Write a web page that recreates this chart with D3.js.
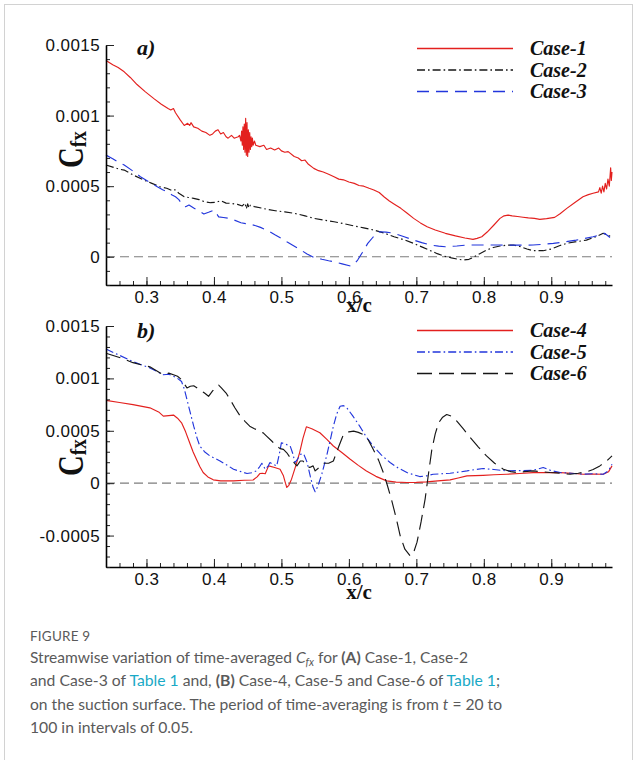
<!DOCTYPE html>
<html>
<head>
<meta charset="utf-8">
<script src="https://cdn.jsdelivr.net/npm/d3@7"></script>
<style>
  html, body { margin: 0; padding: 0; background: #fff; }
  svg { display: block; }
</style>
</head>
<body>
<svg id="fig" width="639" height="760"></svg>
<script>
// ---- Data: [x/c, Cfx] ----
const case1 = [
  [0.240,13.9e-4],[0.250,13.6e-4],[0.258,13.4e-4],[0.267,13.1e-4],[0.276,12.7e-4],[0.286,12.2e-4],
  [0.298,11.7e-4],[0.311,11.2e-4],[0.322,10.8e-4],[0.332,10.5e-4],[0.336,10.4e-4],[0.340,10.5e-4],
  [0.343,10.2e-4],[0.350,9.7e-4],[0.356,9.3e-4],[0.361,9.45e-4],[0.364,9.3e-4],[0.366,9.5e-4],
  [0.370,9.2e-4],[0.376,9.1e-4],[0.382,8.9e-4],[0.388,8.8e-4],[0.394,8.6e-4],[0.398,8.7e-4],
  [0.402,8.9e-4],[0.406,9.0e-4],[0.410,8.7e-4],[0.414,8.8e-4],[0.418,8.5e-4],[0.421,8.4e-4],
  [0.426,8.6e-4],[0.430,8.4e-4],[0.436,8.5e-4],[0.438,8.6e-4],[0.440,8.2e-4],[0.441,8.9e-4],
  [0.442,7.9e-4],[0.443,9.2e-4],[0.444,7.6e-4],[0.445,9.4e-4],[0.446,7.4e-4],[0.447,9.8e-4],
  [0.448,7.2e-4],[0.449,9.5e-4],[0.450,7.1e-4],[0.451,9.0e-4],[0.452,7.4e-4],[0.453,8.8e-4],
  [0.454,7.6e-4],[0.455,8.5e-4],[0.456,7.8e-4],[0.457,8.4e-4],[0.458,7.9e-4],[0.460,8.2e-4],
  [0.462,7.9e-4],[0.468,7.8e-4],[0.474,7.9e-4],[0.478,7.6e-4],[0.484,7.7e-4],[0.490,7.56e-4],
  [0.496,7.7e-4],[0.500,7.5e-4],[0.505,7.4e-4],[0.510,7.45e-4],[0.519,7.1e-4],[0.525,7.0e-4],
  [0.530,6.8e-4],[0.535,6.85e-4],[0.540,6.55e-4],[0.548,6.26e-4],[0.555,6.1e-4],[0.562,6.0e-4],
  [0.570,5.85e-4],[0.578,5.67e-4],[0.585,5.5e-4],[0.592,5.45e-4],[0.600,5.3e-4],[0.608,5.2e-4],
  [0.615,5.05e-4],[0.622,5.0e-4],[0.630,4.85e-4],[0.637,4.73e-4],[0.645,4.55e-4],[0.652,4.25e-4],
  [0.660,3.95e-4],[0.668,3.7e-4],[0.677,3.43e-4],[0.686,3.1e-4],[0.696,2.72e-4],[0.706,2.4e-4],
  [0.716,2.13e-4],[0.728,1.9e-4],[0.743,1.66e-4],[0.758,1.48e-4],[0.772,1.33e-4],[0.784,1.23e-4],
  [0.790,1.3e-4],[0.797,1.42e-4],[0.805,1.75e-4],[0.815,2.25e-4],[0.824,2.72e-4],[0.830,2.9e-4],
  [0.836,2.95e-4],[0.842,2.9e-4],[0.850,2.85e-4],[0.858,2.8e-4],[0.866,2.75e-4],[0.875,2.72e-4],
  [0.883,2.65e-4],[0.893,2.7e-4],[0.905,2.79e-4],[0.913,3.05e-4],[0.923,3.43e-4],[0.935,3.85e-4],
  [0.947,4.25e-4],[0.955,4.4e-4],[0.962,4.5e-4],[0.970,4.6e-4],[0.972,4.9e-4],[0.974,4.5e-4],
  [0.976,5.0e-4],[0.978,4.6e-4],[0.980,5.2e-4],[0.982,4.8e-4],[0.984,5.5e-4],[0.986,5.0e-4],
  [0.988,6.3e-4],[0.989,5.4e-4],[0.990,6.0e-4]
];
const case2 = [
  [0.240,6.5e-4],[0.250,6.35e-4],[0.260,6.2e-4],[0.267,6.14e-4],[0.280,5.8e-4],[0.296,5.43e-4],
  [0.308,5.2e-4],[0.320,4.96e-4],[0.330,4.85e-4],[0.338,4.68e-4],[0.342,4.75e-4],[0.348,4.5e-4],
  [0.356,4.25e-4],[0.362,4.2e-4],[0.370,4.14e-4],[0.378,4.05e-4],[0.386,3.9e-4],[0.395,3.83e-4],
  [0.402,3.85e-4],[0.410,3.97e-4],[0.418,3.8e-4],[0.426,3.78e-4],[0.435,3.71e-4],[0.442,3.6e-4],
  [0.446,3.8e-4],[0.448,3.4e-4],[0.450,3.75e-4],[0.452,3.45e-4],[0.454,3.65e-4],[0.460,3.55e-4],
  [0.470,3.45e-4],[0.480,3.35e-4],[0.491,3.26e-4],[0.505,3.18e-4],[0.519,3.08e-4],[0.535,2.9e-4],
  [0.548,2.72e-4],[0.562,2.6e-4],[0.578,2.48e-4],[0.592,2.35e-4],[0.608,2.18e-4],[0.622,2.05e-4],
  [0.637,1.89e-4],[0.652,1.68e-4],[0.667,1.42e-4],[0.682,1.2e-4],[0.696,0.95e-4],[0.708,0.7e-4],
  [0.721,0.43e-4],[0.731,0.22e-4],[0.741,0.05e-4],[0.752,-0.08e-4],[0.762,-0.18e-4],[0.770,-0.23e-4],
  [0.778,-0.18e-4],[0.784,-0.05e-4],[0.794,0.22e-4],[0.804,0.47e-4],[0.814,0.66e-4],[0.824,0.76e-4],
  [0.834,0.82e-4],[0.844,0.83e-4],[0.854,0.72e-4],[0.864,0.55e-4],[0.873,0.43e-4],[0.888,0.43e-4],
  [0.900,0.55e-4],[0.912,0.78e-4],[0.923,0.95e-4],[0.935,1.05e-4],[0.952,1.18e-4],[0.965,1.4e-4],
  [0.977,1.66e-4],[0.983,1.55e-4],[0.989,1.42e-4]
];
const case3 = [
  [0.240,7.2e-4],[0.250,6.95e-4],[0.258,6.7e-4],[0.267,6.5e-4],[0.279,6.1e-4],[0.291,5.67e-4],
  [0.304,5.3e-4],[0.316,4.96e-4],[0.324,4.75e-4],[0.331,4.6e-4],[0.338,4.37e-4],[0.343,4.25e-4],
  [0.348,4.05e-4],[0.353,3.7e-4],[0.358,3.54e-4],[0.363,3.66e-4],[0.370,3.45e-4],[0.380,3.19e-4],
  [0.385,3.03e-4],[0.392,3.15e-4],[0.400,3.31e-4],[0.404,3.05e-4],[0.407,2.83e-4],[0.414,2.78e-4],
  [0.422,2.72e-4],[0.430,2.6e-4],[0.440,2.41e-4],[0.447,2.35e-4],[0.454,2.3e-4],[0.462,2.2e-4],
  [0.469,2.08e-4],[0.480,1.85e-4],[0.491,1.54e-4],[0.500,1.3e-4],[0.508,1.06e-4],[0.518,0.78e-4],
  [0.529,0.47e-4],[0.538,0.2e-4],[0.548,-0.04e-4],[0.560,-0.18e-4],[0.570,-0.28e-4],[0.578,-0.35e-4],
  [0.590,-0.5e-4],[0.603,-0.66e-4],[0.608,-0.5e-4],[0.613,-0.23e-4],[0.620,0.3e-4],[0.628,0.95e-4],
  [0.636,1.4e-4],[0.645,1.77e-4],[0.655,1.75e-4],[0.667,1.66e-4],[0.682,1.42e-4],[0.696,1.18e-4],
  [0.708,1.0e-4],[0.721,0.83e-4],[0.733,0.75e-4],[0.743,0.71e-4],[0.760,0.76e-4],[0.775,0.83e-4],
  [0.800,0.83e-4],[0.824,0.83e-4],[0.850,0.82e-4],[0.873,0.83e-4],[0.888,0.88e-4],[0.903,0.95e-4],
  [0.920,1.05e-4],[0.937,1.18e-4],[0.950,1.3e-4],[0.962,1.42e-4],[0.972,1.55e-4],[0.979,1.66e-4],
  [0.987,1.37e-4]
];
const case4 = [
  [0.240,7.9e-4],[0.260,7.7e-4],[0.280,7.5e-4],[0.305,7.19e-4],[0.318,6.8e-4],[0.325,6.4e-4],
  [0.333,6.45e-4],[0.340,6.5e-4],[0.346,6.2e-4],[0.352,5.76e-4],[0.358,4.9e-4],[0.364,3.86e-4],
  [0.369,3.0e-4],[0.374,2.28e-4],[0.379,1.6e-4],[0.384,1.02e-4],[0.391,0.6e-4],[0.399,0.32e-4],
  [0.410,0.22e-4],[0.429,0.22e-4],[0.445,0.28e-4],[0.458,0.3e-4],[0.464,0.6e-4],[0.468,0.92e-4],
  [0.472,0.95e-4],[0.476,0.9e-4],[0.481,1.65e-4],[0.490,1.5e-4],[0.498,1.33e-4],[0.503,0.7e-4],
  [0.506,0.0e-4],[0.508,-0.41e-4],[0.511,-0.2e-4],[0.515,0.38e-4],[0.521,1.6e-4],[0.527,2.92e-4],
  [0.532,4.3e-4],[0.537,5.38e-4],[0.545,5.2e-4],[0.557,4.81e-4],[0.567,4.2e-4],[0.577,3.55e-4],
  [0.590,2.9e-4],[0.602,2.28e-4],[0.614,1.7e-4],[0.626,1.17e-4],[0.640,0.65e-4],[0.656,0.22e-4],
  [0.670,0.1e-4],[0.686,0.06e-4],[0.700,0.08e-4],[0.715,0.13e-4],[0.732,0.22e-4],[0.750,0.32e-4],
  [0.762,0.5e-4],[0.775,0.7e-4],[0.787,0.72e-4],[0.799,0.75e-4],[0.815,0.8e-4],[0.834,0.85e-4],
  [0.853,0.92e-4],[0.873,1.0e-4],[0.893,1.02e-4],[0.913,1.0e-4],[0.930,0.95e-4],[0.947,0.85e-4],
  [0.962,0.88e-4],[0.977,0.85e-4],[0.985,1.1e-4],[0.990,1.65e-4]
];
const case5 = [
  [0.240,12.8e-4],[0.260,12.2e-4],[0.280,11.6e-4],[0.305,11.0e-4],[0.325,10.35e-4],[0.333,10.4e-4],
  [0.340,10.2e-4],[0.346,10.0e-4],[0.352,9.7e-4],[0.356,9.0e-4],[0.360,7.98e-4],[0.365,6.7e-4],
  [0.370,5.44e-4],[0.375,4.3e-4],[0.379,3.54e-4],[0.386,3.0e-4],[0.394,2.6e-4],[0.409,2.12e-4],
  [0.420,1.7e-4],[0.429,1.33e-4],[0.440,1.1e-4],[0.449,0.92e-4],[0.456,1.0e-4],[0.463,1.17e-4],
  [0.467,1.5e-4],[0.471,1.9e-4],[0.476,1.33e-4],[0.480,1.6e-4],[0.483,1.97e-4],[0.488,1.8e-4],
  [0.493,1.65e-4],[0.497,2.8e-4],[0.500,3.86e-4],[0.507,3.7e-4],[0.513,3.54e-4],[0.517,2.8e-4],
  [0.520,1.97e-4],[0.524,2.3e-4],[0.528,2.75e-4],[0.533,2.8e-4],[0.538,2.0e-4],[0.543,0.6e-4],
  [0.547,-0.4e-4],[0.550,-0.82e-4],[0.554,-0.3e-4],[0.560,0.9e-4],[0.567,2.6e-4],[0.572,4.0e-4],
  [0.577,5.44e-4],[0.582,6.6e-4],[0.587,7.34e-4],[0.592,7.4e-4],[0.597,7.19e-4],[0.606,6.4e-4],
  [0.616,5.44e-4],[0.626,4.4e-4],[0.636,3.54e-4],[0.648,2.7e-4],[0.661,1.97e-4],[0.673,1.45e-4],
  [0.686,1.02e-4],[0.696,0.8e-4],[0.705,0.63e-4],[0.715,0.7e-4],[0.725,0.85e-4],[0.738,0.9e-4],
  [0.750,0.95e-4],[0.762,1.05e-4],[0.775,1.17e-4],[0.787,1.3e-4],[0.799,1.4e-4],[0.815,1.3e-4],
  [0.834,1.17e-4],[0.853,1.2e-4],[0.873,1.23e-4],[0.888,1.49e-4],[0.900,1.2e-4],[0.913,1.02e-4],
  [0.930,0.95e-4],[0.947,0.85e-4],[0.962,0.9e-4],[0.977,0.85e-4],[0.985,1.2e-4],[0.990,1.8e-4]
];
const case6 = [
  [0.240,12.4e-4],[0.260,12.0e-4],[0.280,11.5e-4],[0.305,11.1e-4],[0.325,10.35e-4],[0.333,10.5e-4],
  [0.340,10.35e-4],[0.346,10.2e-4],[0.352,9.88e-4],[0.360,9.09e-4],[0.365,9.25e-4],[0.370,9.3e-4],
  [0.379,8.93e-4],[0.386,8.6e-4],[0.392,8.29e-4],[0.398,8.8e-4],[0.404,9.24e-4],[0.407,9.35e-4],
  [0.411,9.09e-4],[0.418,8.6e-4],[0.424,7.98e-4],[0.431,7.2e-4],[0.439,6.39e-4],[0.446,5.9e-4],
  [0.453,5.44e-4],[0.460,5.2e-4],[0.468,4.97e-4],[0.473,4.8e-4],[0.478,4.49e-4],[0.486,4.0e-4],
  [0.493,3.54e-4],[0.498,3.3e-4],[0.503,3.23e-4],[0.508,2.9e-4],[0.513,2.44e-4],[0.518,2.0e-4],
  [0.523,1.65e-4],[0.528,2.12e-4],[0.532,2.12e-4],[0.537,1.65e-4],[0.542,1.5e-4],[0.547,1.65e-4],
  [0.550,1.17e-4],[0.556,1.5e-4],[0.562,1.9e-4],[0.570,1.9e-4],[0.577,2.12e-4],[0.585,3.5e-4],
  [0.592,4.65e-4],[0.600,4.9e-4],[0.607,4.97e-4],[0.614,4.85e-4],[0.621,4.65e-4],[0.629,4.1e-4],
  [0.636,3.23e-4],[0.644,2.2e-4],[0.651,1.02e-4],[0.657,-0.2e-4],[0.663,-1.52e-4],[0.670,-3.3e-4],
  [0.676,-5.0e-4],[0.683,-6.3e-4],[0.691,-6.96e-4],[0.696,-6.6e-4],[0.701,-5.63e-4],[0.707,-3.7e-4],
  [0.713,-1.52e-4],[0.718,0.9e-4],[0.723,3.23e-4],[0.728,4.7e-4],[0.733,5.76e-4],[0.739,6.3e-4],
  [0.745,6.55e-4],[0.752,6.4e-4],[0.760,5.92e-4],[0.770,5.15e-4],[0.780,4.34e-4],[0.792,3.45e-4],
  [0.804,2.6e-4],[0.816,1.9e-4],[0.829,1.33e-4],[0.840,1.1e-4],[0.849,1.02e-4],[0.860,1.1e-4],
  [0.873,1.17e-4],[0.885,1.1e-4],[0.898,1.02e-4],[0.913,0.95e-4],[0.928,0.85e-4],[0.940,0.95e-4],
  [0.952,1.08e-4],[0.962,1.3e-4],[0.972,1.65e-4],[0.982,2.1e-4],[0.990,2.6e-4]
];

// ---- Axis ticks and labels ----
const xDomain = [0.24, 0.99];
const xMajorTicks = [0.3, 0.4, 0.5, 0.6, 0.7, 0.8, 0.9];
const yTicksTop = [0, 0.0005, 0.001, 0.0015];
const yTickLabelsTop = ["0", "0.0005", "0.001", "0.0015"];
const yTicksBottom = [-0.0005, 0, 0.0005, 0.001, 0.0015];
const yTickLabelsBottom = ["-0.0005", "0", "0.0005", "0.001", "0.0015"];
const panelLabels = ["a)", "b)"];
const legendTop = ["Case-1", "Case-2", "Case-3"];
const legendBottom = ["Case-4", "Case-5", "Case-6"];

// ---- Series styling ----
const RED = "#e3201e", BLUE = "#2236dc", BLACK = "#161616";
const styleTop = [
  { color: RED,   dash: null },
  { color: BLACK, dash: "8,3,1.6,3" },
  { color: BLUE,  dash: "12,7" }
];
const styleBottom = [
  { color: RED,   dash: null },
  { color: BLUE,  dash: "8,3,1.6,3" },
  { color: BLACK, dash: "15,7" }
];

const svg = d3.select("#fig");

// outer frame of the figure
svg.append("rect")
  .attr("x", 4.5).attr("y", 4.5).attr("width", 628).attr("height", 800)
  .attr("fill", "none").attr("stroke", "#d2d2d2").attr("stroke-width", 1);

const x = d3.scaleLinear().domain(xDomain).range([106, 612]);

function drawPanel(opt) {
  const y = d3.scaleLinear().domain(opt.yDomain).range(opt.yRange);
  const g = svg.append("g");
  const bottom = opt.yRange[0];

  // zero reference line
  g.append("line")
    .attr("x1", x(xDomain[0])).attr("x2", x(xDomain[1]))
    .attr("y1", y(0)).attr("y2", y(0))
    .attr("stroke", "#7d7d7d").attr("stroke-width", 1.2)
    .attr("stroke-dasharray", "9,5");

  // data curves
  const line = d3.line().x(d => x(d[0])).y(d => y(d[1]));
  opt.series.forEach((s, i) => {
    g.append("path").datum(s)
      .attr("d", line)
      .attr("fill", "none")
      .attr("stroke", opt.styles[i].color)
      .attr("stroke-width", 1.15)
      .attr("stroke-linejoin", "round")
      .attr("stroke-dasharray", opt.styles[i].dash);
  });

  // x axis: minor ticks every 0.02, then major ticks with labels
  const xMinor = d3.range(0.26, 0.99, 0.02);
  g.append("g").attr("transform", `translate(0,${bottom})`)
    .call(d3.axisBottom(x).tickValues(xMinor).tickSize(-4).tickFormat(""))
    .call(a => a.select(".domain").remove());
  g.append("g").attr("transform", `translate(0,${bottom})`)
    .call(d3.axisBottom(x).tickValues(xMajorTicks).tickSize(-8).tickSizeOuter(0)
      .tickPadding(6).tickFormat(d3.format(".1f")))
    .call(a => a.select(".domain").attr("stroke-width", 1.6));

  // y axis: minor ticks every 0.0001, then major ticks with labels
  const yMinor = d3.range(Math.round(opt.yDomain[0] * 1e4), Math.round(opt.yDomain[1] * 1e4) + 1)
    .map(v => v * 1e-4);
  g.append("g").attr("transform", `translate(${x(xDomain[0])},0)`)
    .call(d3.axisLeft(y).tickValues(yMinor).tickSize(-4).tickFormat(""))
    .call(a => a.select(".domain").remove());
  g.append("g").attr("transform", `translate(${x(xDomain[0])},0)`)
    .call(d3.axisLeft(y).tickValues(opt.yTicks).tickSize(-8).tickSizeOuter(0)
      .tickPadding(6).tickFormat((d, i) => opt.yLabels[i]))
    .call(a => a.select(".domain").attr("stroke-width", 1.6));

  g.selectAll(".tick line").attr("stroke", "#222").attr("stroke-width", 1);
  g.selectAll(".tick text")
    .attr("font-family", "'Liberation Sans', Arial, sans-serif")
    .attr("font-size", 17).attr("letter-spacing", 0.4).attr("fill", "#111");

  // axis titles
  const cfx = g.append("text")
    .attr("transform", `translate(83,${opt.cfxY}) rotate(-90) scale(0.8,1)`)
    .attr("font-family", "'Liberation Serif', 'Times New Roman', serif")
    .attr("font-weight", "bold").attr("fill", "#111");
  cfx.append("tspan").attr("font-size", 36).text("C");
  cfx.append("tspan").attr("font-size", 24).attr("dy", 3).text("fx");

  g.append("text")
    .attr("x", 359).attr("y", opt.xTitleY)
    .attr("text-anchor", "middle")
    .attr("font-family", "'Liberation Serif', 'Times New Roman', serif")
    .attr("font-weight", "bold").attr("font-size", 21).attr("fill", "#111")
    .text("x/c");

  // panel tag
  g.append("text")
    .attr("x", 137).attr("y", opt.tagY)
    .attr("font-family", "'Liberation Serif', 'Times New Roman', serif")
    .attr("font-weight", "bold").attr("font-style", "italic")
    .attr("font-size", 22).attr("fill", "#111")
    .text(opt.tag);

  // legend
  opt.legend.forEach((name, i) => {
    const ly = opt.legendY + i * 21.5;
    g.append("line")
      .attr("x1", 417).attr("x2", 513).attr("y1", ly).attr("y2", ly)
      .attr("stroke", opt.styles[i].color).attr("stroke-width", 1.3)
      .attr("stroke-dasharray", opt.styles[i].dash);
    g.append("text")
      .attr("x", 530).attr("y", ly + 6.5)
      .attr("font-family", "'Liberation Serif', 'Times New Roman', serif")
      .attr("font-weight", "bold").attr("font-style", "italic")
      .attr("font-size", 20).attr("fill", "#111")
      .text(name);
  });
}

drawPanel({
  yDomain: [-0.0002, 0.0015], yRange: [285, 45],
  yTicks: yTicksTop, yLabels: yTickLabelsTop,
  series: [case1, case2, case3], styles: styleTop,
  legend: legendTop, legendY: 48.5,
  tag: panelLabels[0], tagY: 55, cfxY: 168, xTitleY: 312
});
drawPanel({
  yDomain: [-0.0008, 0.0015], yRange: [567, 326],
  yTicks: yTicksBottom, yLabels: yTickLabelsBottom,
  series: [case4, case5, case6], styles: styleBottom,
  legend: legendBottom, legendY: 330.5,
  tag: panelLabels[1], tagY: 338, cfxY: 476, xTitleY: 599
});

// ---- Caption ----
const cap = svg.append("g")
  .attr("font-family", "Lato, 'Open Sans', sans-serif")
  .attr("fill", "#5a5a5a");
cap.append("text").attr("x", 30).attr("y", 640.5)
  .attr("font-size", 13.5).attr("letter-spacing", 0.2).text("FIGURE 9");

const TEAL = "#19a9c6";
const capLines = [
  { y: 662.5, w: 438, parts: [
    ["Streamwise variation of time-averaged "], ["C", "i"], ["fx", "sub"], [" for "], ["(A)", "b"],
    [" Case-1, Case-2"] ] },
  { y: 686, w: 470, parts: [
    ["and Case-3 of "], ["Table 1", "link"], [" and, "], ["(B)", "b"],
    [" Case-4, Case-5 and Case-6 of "], ["Table 1", "link"], [";"] ] },
  { y: 709.5, w: 472, parts: [
    ["on the suction surface. The period of time-averaging is from "], ["t", "i"], [" = 20 to"] ] },
  { y: 733, w: 163, parts: [["100 in intervals of 0.05."]] }
];
capLines.forEach(l => {
  const t = cap.append("text").attr("x", 30).attr("y", l.y).attr("font-size", 16);
  let sub = false;
  l.parts.forEach(([s, k]) => {
    const ts = t.append("tspan").text(s);
    if (k === "i") ts.attr("font-style", "italic");
    if (k === "b") ts.attr("font-weight", "bold");
    if (k === "link") ts.attr("fill", TEAL);
    if (k === "sub") { ts.attr("font-style", "italic").attr("font-size", 11).attr("dy", 3); sub = true; }
    else if (sub) { ts.attr("dy", -3); sub = false; }
  });
  t.attr("textLength", l.w).attr("lengthAdjust", "spacingAndGlyphs");
});
</script>
</body>
</html>
